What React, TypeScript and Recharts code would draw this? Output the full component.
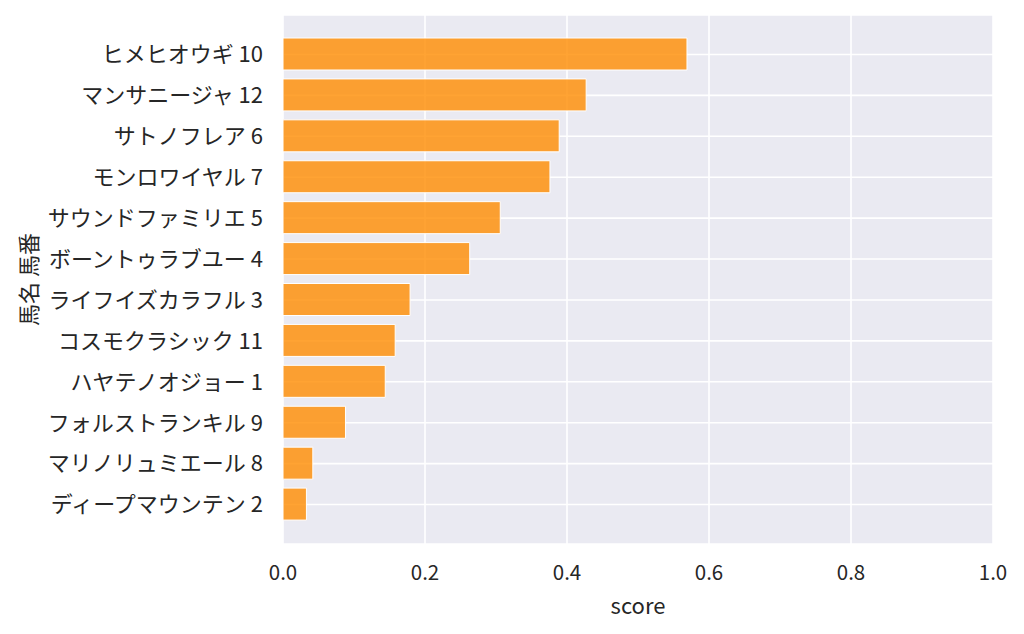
import React from 'react';
import { BarChart, Bar, XAxis, YAxis, CartesianGrid, Label } from 'recharts';

const horses = [
  'ヒメヒオウギ 10',
  'マンサニージャ 12',
  'サトノフレア 6',
  'モンロワイヤル 7',
  'サウンドファミリエ 5',
  'ボーントゥラブユー 4',
  'ライフイズカラフル 3',
  'コスモクラシック 11',
  'ハヤテノオジョー 1',
  'フォルストランキル 9',
  'マリノリュミエール 8',
  'ディープマウンテン 2',
];
const scores = [0.569, 0.427, 0.389, 0.376, 0.306, 0.263, 0.179, 0.158, 0.144, 0.088, 0.042, 0.033];
const xTicks = [0, 0.2, 0.4, 0.6, 0.8, 1.0];

const data = horses.map((name, i) => ({ name, score: scores[i] }));

const FONT = '"Noto Sans CJK JP", "Noto Sans", sans-serif';

export default function App() {
  return (
    <div style={{ position: 'absolute', left: 0, top: 0, background: '#fff' }}>
      <BarChart
        width={1024}
        height={634}
        data={data}
        layout="vertical"
        margin={{ top: 15, right: 31, bottom: 0, left: 0 }}
      >
        <CartesianGrid fill="#eaeaf2" stroke="#ffffff" strokeWidth={1.6} />
        <XAxis
          type="number"
          dataKey="score"
          domain={[0, 1]}
          ticks={xTicks}
          tickFormatter={(v: number) => v.toFixed(1)}
          axisLine={false}
          tickLine={false}
          height={90}
          tickMargin={15}
          tick={{ fill: '#262626', fontSize: 20.5, fontFamily: FONT }}
        >
          <Label
            value="score"
            position="insideBottom"
            offset={20}
            style={{ fill: '#262626', fontSize: 22, fontFamily: FONT }}
          />
        </XAxis>
        <YAxis
          type="category"
          dataKey="name"
          width={283}
          axisLine={false}
          tickLine={false}
          padding={{ top: 19, bottom: 19 }}
          tickMargin={14}
          interval={0}
          tick={{ fill: '#262626', fontSize: 22, fontFamily: FONT }}
        >
          <Label
            value="馬名 馬番"
            angle={-90}
            position="center"
            dx={-112}
            style={{ fill: '#262626', fontSize: 22, fontFamily: FONT, textAnchor: 'middle' }}
          />
        </YAxis>
        <Bar
          dataKey="score"
          fill="#ff8c00"
          fillOpacity={0.8}
          stroke="#ffffff"
          strokeWidth={1}
          barSize={32}
          isAnimationActive={false}
        />
      </BarChart>
    </div>
  );
}
